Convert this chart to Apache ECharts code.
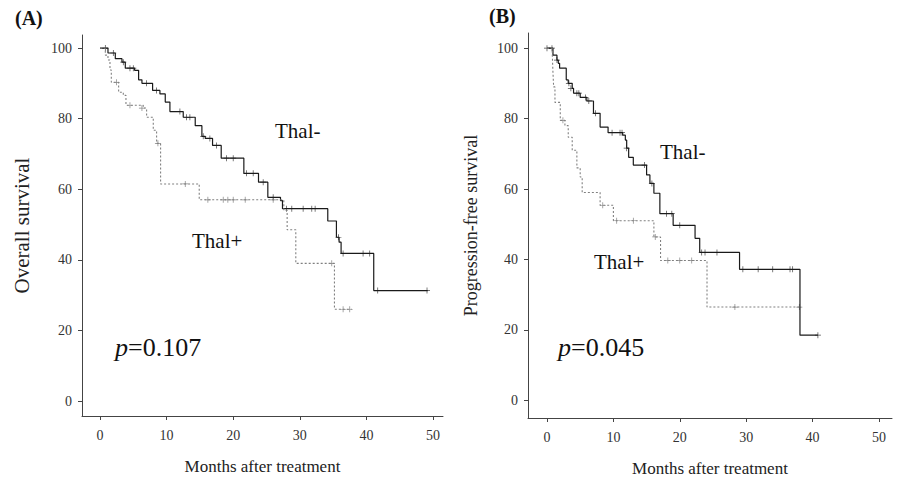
<!DOCTYPE html>
<html>
<head>
<meta charset="utf-8">
<script src="https://cdn.jsdelivr.net/npm/echarts@6/dist/echarts.min.js"></script>
<style>
  html, body { margin: 0; padding: 0; background: #fff; }
  #chart { width: 903px; height: 482px; }
</style>
</head>
<body>
<div id="chart"></div>
<script>
// tick labels
var xTicks = [0, 10, 20, 30, 40, 50];
var yTicks = [0, 20, 40, 60, 80, 100];

// (A) overall survival, step points [month, survival after event]
var osThalNeg = [[0,100],[1.2,98.6],[2.3,97],[3.3,96],[3.8,94.3],[5.2,93.7],[5.8,91],[6.3,90],[7.9,88],[9,87],[9.8,84.7],[10.5,82],[12.5,80.4],[14.3,78],[15.3,75],[15.8,74.4],[16.9,72.4],[18.2,68.8],[21.6,64.5],[23.8,62],[25.2,57.7],[27.1,56.8],[27.4,54.5],[34.2,51],[35.5,46.4],[35.9,45],[36.2,41.8],[41.1,31.3],[49.2,31.3]];
var osThalPos = [[0,100],[0.8,98],[1.2,96.6],[1.5,93.8],[1.7,90.3],[2.8,87.5],[3.5,86.6],[3.9,83.8],[6.5,83],[7,80.4],[8,76.7],[8.5,73],[9.1,61.5],[14.9,57],[27.6,54],[28.1,48.5],[29.4,39],[35.2,26],[37.8,26]];
// censored marks
var osThalNegCens = [[0.8,100],[2,98.6],[3.5,96],[4.5,94.3],[5,94.3],[7,90],[8.5,88],[12,82],[13,80.4],[13.5,80.4],[15.5,75],[16.5,74.4],[17.5,72.4],[19,68.8],[20,68.8],[22,64.5],[23,64.5],[24.5,62],[26,57.7],[28,54.5],[28.8,54.5],[30.5,54.5],[31.8,54.5],[32.3,54.5],[35.8,46.4],[36.5,41.8],[39.5,41.8],[40.5,41.8],[41.7,31.3],[49.1,31.3]];
var osThalPosCens = [[2.5,90.3],[4.5,83.8],[6.3,83],[8.7,73],[12.8,61.5],[16.2,57],[18.5,57],[19.2,57],[20,57],[21.8,57],[26,57],[34.8,39],[36.5,26],[37.5,26]];

// (B) progression-free survival
var pfsThalNeg = [[0,100],[0.9,98],[1.5,96.6],[1.7,95.7],[1.9,94.3],[2.9,91],[3.2,90],[3.8,88.6],[4,87.2],[5,86],[6,85],[7,81.5],[8,77.6],[9.2,76],[11.4,75.3],[11.8,73.9],[12,71.6],[12.3,69],[13,66.8],[15,64],[15.5,61.6],[16.1,58.8],[17,53],[19,49.7],[22.3,46],[23,42],[29,37.2],[38.1,18.5],[40.8,18.5]];
var pfsThalPos = [[0,100],[0.8,98],[0.9,93],[1,89],[1.2,84.6],[2,79.5],[2.7,78],[3.2,74.7],[3.8,71],[4.5,66],[5,63.4],[5.3,59],[8,55.4],[10,51],[16.1,46.4],[17.1,39.7],[24.1,26.5],[38.1,26.5]];
var pfsThalNegCens = [[0,100],[0.75,100],[1.5,96.6],[3.3,90],[3.6,88.6],[4.5,87.2],[4.8,87.2],[5.8,86],[6.3,85],[7.3,81.5],[9.8,76],[11,76],[11.3,76],[12,71.6],[14.7,66.8],[15.8,61.6],[18,53],[18.8,53],[20,49.7],[23.3,42],[23.8,42],[25.6,42],[29.5,37.2],[31.8,37.2],[34,37.2],[36.6,37.2],[37,37.2],[40.8,18.5]];
var pfsThalPosCens = [[2.4,79.5],[8.4,55.4],[10.5,51],[13,51],[16.3,46.4],[18.2,39.7],[20,39.7],[21.8,39.7],[28.3,26.5],[38,26.5]];

var chart = echarts.init(document.getElementById('chart'), null, { renderer: 'svg' });

var serif = 'Liberation Serif';
var plus = 'path://M0,4.4H10V5.6H0Z M4.4,0H5.6V10H4.4Z';
var axisCol = '#444';

function xAxisOf(idx, mn, mx) {
  return {
    type: 'value', gridIndex: idx, min: mn, max: mx,
    name: 'Months after treatment', nameLocation: 'middle', nameGap: 42,
    nameTextStyle: { fontFamily: serif, fontSize: 17, color: '#222' },
    axisLine: { show: true, onZero: false, lineStyle: { color: axisCol, width: 1 } },
    axisTick: { show: true, length: 4, customValues: xTicks, lineStyle: { color: axisCol } },
    axisLabel: { customValues: xTicks, fontFamily: serif, fontSize: 14, color: '#333', margin: 12 },
    splitLine: { show: false }
  };
}
function yAxisOf(idx, nm, gap, fs, mn, mx) {
  return {
    type: 'value', gridIndex: idx, min: mn, max: mx,
    name: nm, nameLocation: 'middle', nameGap: gap,
    nameTextStyle: { fontFamily: serif, fontSize: fs, color: '#222' },
    axisLine: { show: true, onZero: false, lineStyle: { color: axisCol, width: 1 } },
    axisTick: { show: true, length: 4, customValues: yTicks, lineStyle: { color: axisCol } },
    axisLabel: { customValues: yTicks, fontFamily: serif, fontSize: 14, color: '#333', margin: 10 },
    splitLine: { show: false }
  };
}
function curve(idx, data, solid) {
  return {
    type: 'line', xAxisIndex: idx, yAxisIndex: idx, step: 'end', data: data,
    showSymbol: false, silent: true, animation: false,
    lineStyle: solid ? { color: '#1a1a1a', width: 1.2 } : { color: '#808080', width: 1.1, type: [2, 2] }
  };
}
function marks(idx, data, solid) {
  return {
    type: 'scatter', xAxisIndex: idx, yAxisIndex: idx, data: data,
    symbol: plus, symbolSize: 6, silent: true, animation: false,
    itemStyle: { color: solid ? '#1a1a1a' : '#666' }
  };
}
function label(x, y, txt, size, bold) {
  return { type: 'text', left: x, top: y, style: {
    text: txt, font: (bold ? 'bold ' : '') + size + 'px "Liberation Serif", serif', fill: '#111' } };
}
function pval(x, y, val) {
  return { type: 'group', left: x, top: y, children: [
    { type: 'text', left: 0, top: 0, style: { text: 'p', font: 'italic 26px "Liberation Serif", serif', fill: '#111' } },
    { type: 'text', left: 13, top: 0, style: { text: '=' + val, font: '26px "Liberation Serif", serif', fill: '#111' } }
  ] };
}

chart.setOption({
  backgroundColor: '#fff',
  animation: false,
  grid: [
    { left: 82, top: 35, width: 361, height: 381 },
    { left: 528, top: 33, width: 364, height: 385 }
  ],
  xAxis: [xAxisOf(0, -2.7, 51.5), xAxisOf(1, -2.86, 51.96)],
  yAxis: [
    yAxisOf(0, 'Overall survival', 50, 21, -4.25, 103.7),
    yAxisOf(1, 'Progression-free survival', 48, 18, -5, 104.3)
  ],
  series: [
    curve(0, osThalNeg, true), curve(0, osThalPos, false),
    marks(0, osThalNegCens, true), marks(0, osThalPosCens, false),
    curve(1, pfsThalNeg, true), curve(1, pfsThalPos, false),
    marks(1, pfsThalNegCens, true), marks(1, pfsThalPosCens, false)
  ],
  graphic: [
    label(15, 8, '(A)', 20, true),
    label(489, 6, '(B)', 20, true),
    label(275, 120, 'Thal-', 21, false),
    label(192, 230, 'Thal+', 21, false),
    label(660, 141, 'Thal-', 21, false),
    label(594, 251, 'Thal+', 21, false),
    pval(115, 334, '0.107'),
    pval(558, 334, '0.045')
  ]
});
</script>
</body>
</html>
